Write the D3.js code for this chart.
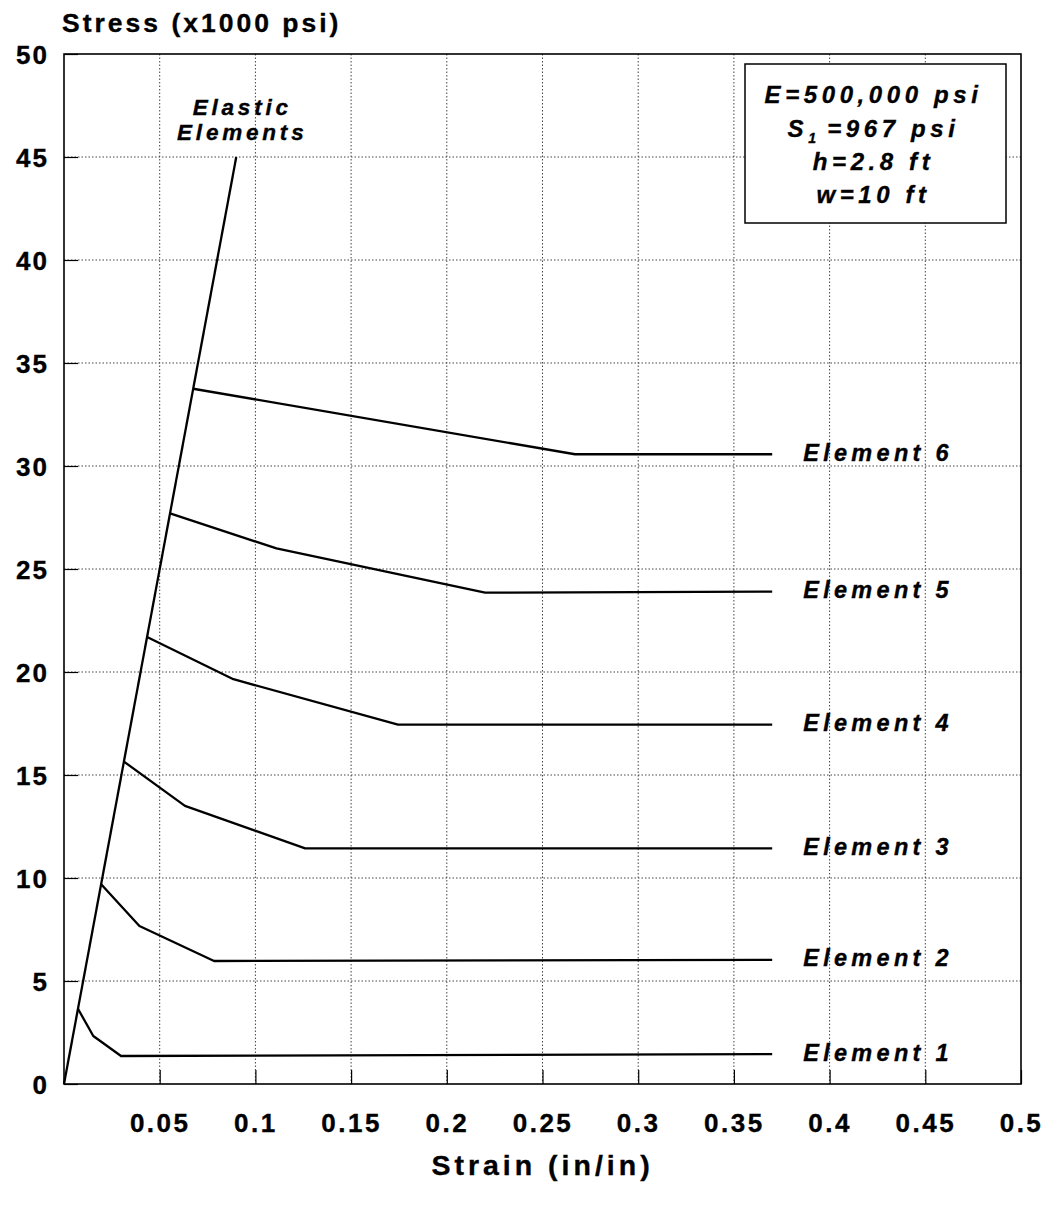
<!DOCTYPE html>
<html>
<head>
<meta charset="utf-8">
<script src="https://cdn.jsdelivr.net/npm/d3@7"></script>
<style>
  html, body { margin: 0; padding: 0; background: #fff; }
  svg { display: block; }
  text { font-family: "Liberation Sans", Arial, Helvetica, sans-serif; font-weight: bold; fill: #000;
         stroke: #000; stroke-width: 0.35px; }
</style>
</head>
<body>
<svg id="chart" width="1052" height="1205"></svg>
<script>
// Stress–strain response of the elastic elements and six post-peak elements
const xTicks = [0.05, 0.1, 0.15, 0.2, 0.25, 0.3, 0.35, 0.4, 0.45, 0.5];
const xTickLabels = ["0.05", "0.1", "0.15", "0.2", "0.25", "0.3", "0.35", "0.4", "0.45", "0.5"];
const yTicks = [0, 5, 10, 15, 20, 25, 30, 35, 40, 45, 50];
const yTickLabels = ["0", "5", "10", "15", "20", "25", "30", "35", "40", "45", "50"];

const elasticStrain = [0, 0.09];
const elasticStress = [0, 45];

const element1Strain = [0.0073, 0.0153, 0.0298, 0.370];
const element1Stress = [3.65, 2.33, 1.36, 1.45];
const element2Strain = [0.0194, 0.0394, 0.0784, 0.370];
const element2Stress = [9.7, 7.67, 5.97, 6.03];
const element3Strain = [0.0313, 0.0632, 0.126, 0.370];
const element3Stress = [15.65, 13.5, 11.44, 11.44];
const element4Strain = [0.0434, 0.0885, 0.1745, 0.370];
const element4Stress = [21.7, 19.65, 17.45, 17.45];
const element5Strain = [0.0554, 0.111, 0.220, 0.370];
const element5Stress = [27.7, 26.0, 23.85, 23.9];
const element6Strain = [0.0675, 0.267, 0.370];
const element6Stress = [33.75, 30.57, 30.57];

const elementNames = ["Element 1", "Element 2", "Element 3", "Element 4", "Element 5", "Element 6"];
const propertyLines = ["E=500,000 psi", "S|1| =967 psi", "h=2.8 ft", "w=10 ft"];

const elements = [
  [element1Strain, element1Stress],
  [element2Strain, element2Stress],
  [element3Strain, element3Stress],
  [element4Strain, element4Stress],
  [element5Strain, element5Stress],
  [element6Strain, element6Stress]
].map(([sx, sy], i) => ({ name: elementNames[i], pts: sx.map((v, j) => [v, sy[j]]) }));

const svg = d3.select("#chart");
const plot = { left: 64, right: 1021, top: 54, bottom: 1084 };

const x = d3.scaleLinear().domain([0, 0.5]).range([plot.left, plot.right]);
const y = d3.scaleLinear().domain([0, 50]).range([plot.bottom, plot.top]);

// dotted grid
const grid = svg.append("g").attr("stroke", "#444").attr("stroke-width", 1)
  .attr("stroke-dasharray", "1.5 2");
grid.selectAll(".gx").data(xTicks.slice(0, -1)).join("line")
  .attr("x1", d => x(d)).attr("x2", d => x(d))
  .attr("y1", plot.top).attr("y2", plot.bottom);
grid.selectAll(".gy").data(yTicks.slice(1, -1)).join("line")
  .attr("x1", plot.left).attr("x2", plot.right)
  .attr("y1", d => y(d)).attr("y2", d => y(d));

// axes with inward ticks
const xAxis = svg.append("g")
  .attr("transform", `translate(0,${plot.bottom})`)
  .call(d3.axisBottom(x).tickValues(xTicks).tickFormat((d, i) => xTickLabels[i])
    .tickSizeInner(-14).tickSizeOuter(0).tickPadding(0));
xAxis.select(".domain").remove();
xAxis.selectAll(".tick line").attr("stroke", "#000").attr("stroke-width", 1.2);
xAxis.selectAll(".tick text")
  .attr("y", 48).attr("dy", null)
  .style("font-size", "26px").style("letter-spacing", "2.5px")
  .attr("font-family", null).attr("fill", "#000");

const yAxis = svg.append("g")
  .attr("transform", `translate(${plot.left},0)`)
  .call(d3.axisLeft(y).tickValues(yTicks).tickFormat((d, i) => yTickLabels[i])
    .tickSizeInner(-14).tickSizeOuter(0).tickPadding(0));
yAxis.select(".domain").remove();
yAxis.selectAll(".tick line").attr("stroke", "#000").attr("stroke-width", 1.2);
yAxis.selectAll(".tick text")
  .attr("x", -15).attr("dy", "0.36em")
  .style("font-size", "26px").style("letter-spacing", "2px")
  .attr("font-family", null).attr("fill", "#000");

// frame
svg.append("rect")
  .attr("x", plot.left).attr("y", plot.top)
  .attr("width", plot.right - plot.left).attr("height", plot.bottom - plot.top)
  .attr("fill", "none").attr("stroke", "#000").attr("stroke-width", 1.6);

// curves
const line = d3.line().x(d => x(d[0])).y(d => y(d[1]));
svg.append("path")
  .datum(elasticStrain.map((v, i) => [v, elasticStress[i]]))
  .attr("d", line).attr("fill", "none").attr("stroke", "#000").attr("stroke-width", 2.3);

svg.selectAll(".element").data(elements).join("path")
  .attr("class", "element")
  .attr("d", d => line(d.pts))
  .attr("fill", "none").attr("stroke", "#000").attr("stroke-width", 2.3)
  .attr("stroke-linejoin", "round");

svg.selectAll(".elabel").data(elements).join("text")
  .attr("class", "elabel")
  .attr("x", d => x(d.pts[d.pts.length - 1][0]) + 31)
  .attr("y", d => y(d.pts[d.pts.length - 1][1]) - 2)
  .attr("dy", "0.36em")
  .style("font-size", "23.5px").style("font-style", "italic").style("letter-spacing", "4.3px")
  .text(d => d.name);

// label for the elastic branch
const topPt = [elasticStrain[1], elasticStress[1]];
const elabel = svg.append("text")
  .attr("text-anchor", "middle")
  .style("font-size", "22.5px").style("font-style", "italic").style("letter-spacing", "3.8px");
elabel.append("tspan").attr("x", x(topPt[0]) + 6).attr("y", y(topPt[1]) - 42).text("Elastic");
elabel.append("tspan").attr("x", x(topPt[0]) + 6).attr("y", y(topPt[1]) - 17).text("Elements");

// property box
const box = { x0: 745, y0: 64, x1: 1006, y1: 223 };
svg.append("rect")
  .attr("x", box.x0).attr("y", box.y0)
  .attr("width", box.x1 - box.x0).attr("height", box.y1 - box.y0)
  .attr("fill", "#fff").attr("stroke", "#000").attr("stroke-width", 1.5);
const baselines = [103, 137, 170, 203];
propertyLines.forEach((s, i) => {
  const t = svg.append("text")
    .attr("x", (box.x0 + box.x1) / 2 - 2).attr("y", baselines[i])
    .attr("text-anchor", "middle")
    .style("font-size", "24px").style("font-style", "italic").style("letter-spacing", "4.6px");
  const parts = s.split("|");
  parts.forEach((p, k) => {
    const ts = t.append("tspan").text(p);
    if (k === 1) ts.attr("dy", 6).style("font-size", "14px").style("letter-spacing", "0px");
    if (k === 2) ts.attr("dy", -6);
  });
});

// axis titles
svg.append("text")
  .attr("x", 62).attr("y", 32)
  .style("font-size", "26.5px").style("letter-spacing", "3px")
  .text("Stress (x1000 psi)");
svg.append("text")
  .attr("x", (plot.left + plot.right) / 2).attr("y", 1175)
  .attr("text-anchor", "middle")
  .style("font-size", "28.5px").style("letter-spacing", "4px")
  .text("Strain (in/in)");
</script>
</body>
</html>
